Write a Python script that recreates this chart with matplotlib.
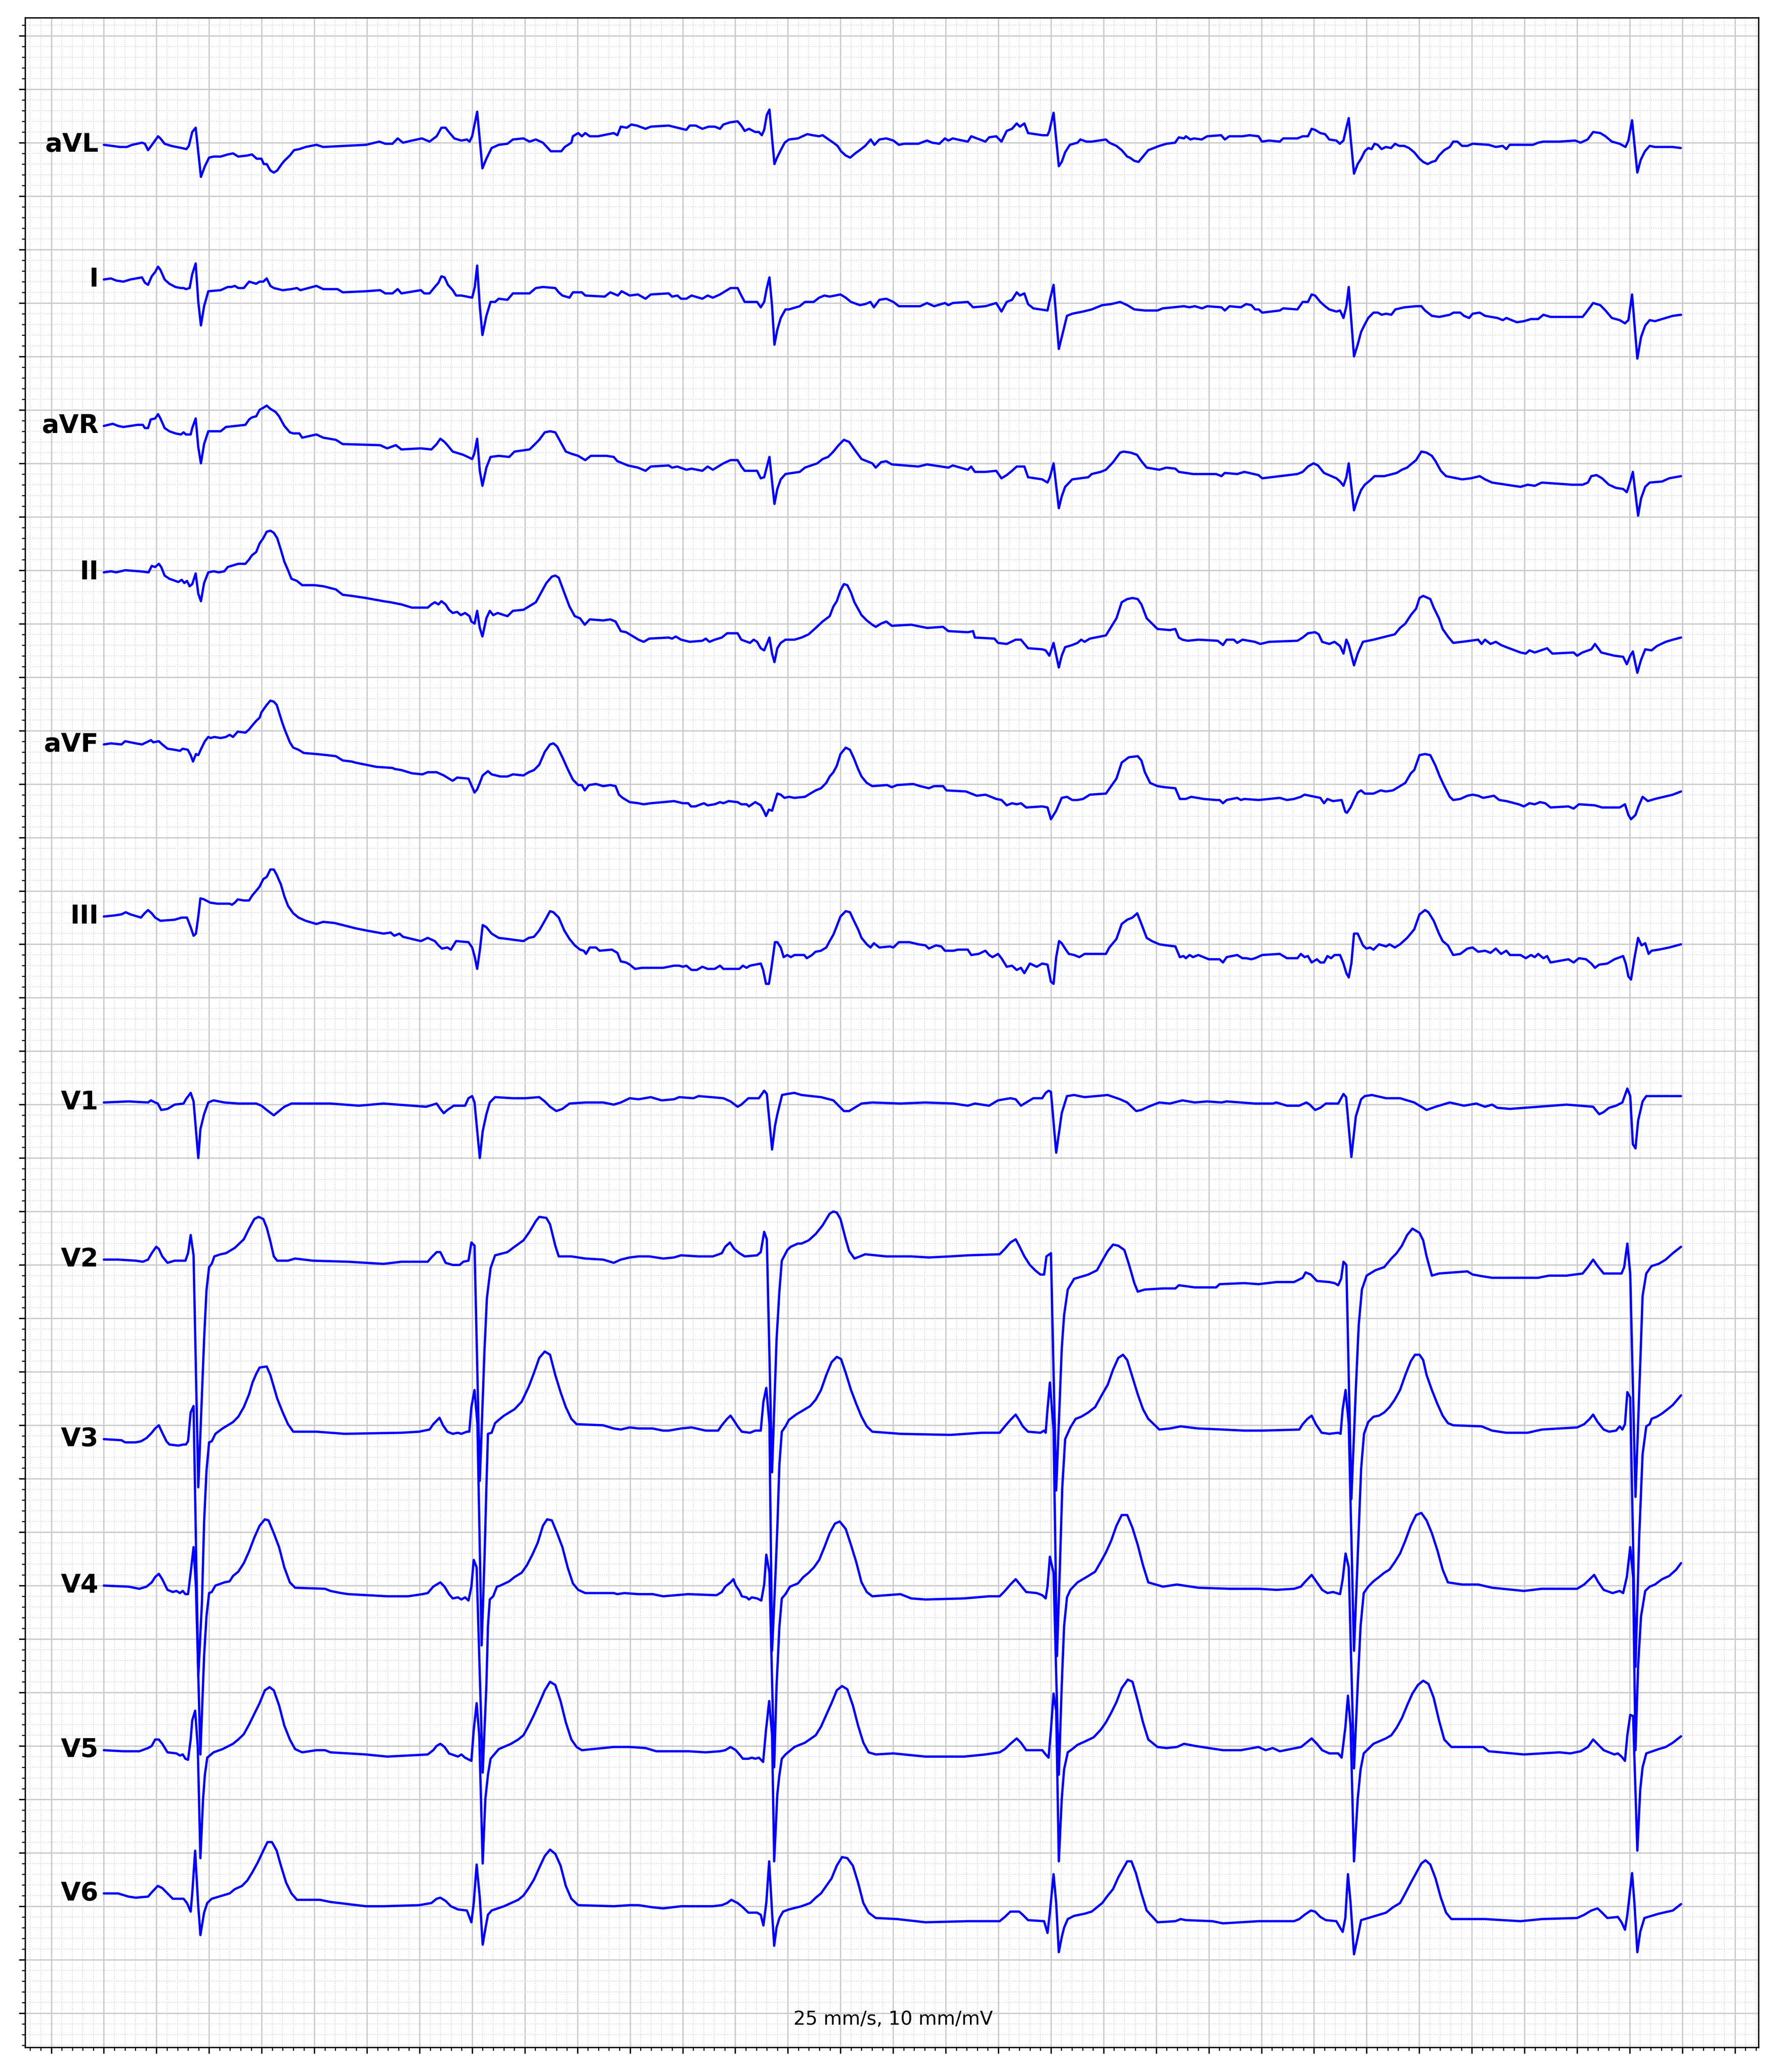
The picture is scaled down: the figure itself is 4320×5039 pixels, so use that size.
import matplotlib
matplotlib.use("Agg")
import matplotlib.pyplot as plt
from matplotlib.ticker import MultipleLocator

# ---------------- data: (time s, amplitude mV) ----------------
LEADS = ["aVL", "I", "aVR", "II", "aVF", "III", "V1", "V2", "V3", "V4", "V5", "V6"]
LEAD_SPACING_MV = 1.5
SPEED_TEXT = "25 mm/s, 10 mm/mV"

AVL = [(0.000,-0.02),(0.061,-0.04),(0.087,-0.04),(0.108,-0.02),(0.145,0.00),(0.156,-0.01),(0.168,-0.07),(0.186,-0.01),(0.206,0.06),(0.215,0.04),(0.231,-0.01),(0.256,-0.03),(0.296,-0.05),(0.314,-0.06),(0.323,-0.03),(0.336,0.10),(0.349,0.14),(0.369,-0.32),(0.384,-0.22),(0.400,-0.14),(0.417,-0.13),(0.444,-0.13),(0.471,-0.11),(0.491,-0.10),(0.511,-0.13),(0.545,-0.12),(0.563,-0.11),(0.581,-0.15),(0.599,-0.15),(0.608,-0.20),(0.619,-0.20),(0.633,-0.26),(0.646,-0.28),(0.659,-0.26),(0.676,-0.20),(0.686,-0.17),(0.707,-0.12),(0.723,-0.07),(0.743,-0.06),(0.767,-0.04),(0.808,-0.02),(0.834,-0.04),(0.915,-0.03),(0.996,-0.02),(1.047,0.01),(1.070,-0.01),(1.097,-0.01),(1.117,0.04),(1.137,0.00),(1.171,0.02),(1.209,0.04),(1.238,0.01),(1.265,0.06),(1.283,0.14),(1.299,0.14),(1.308,0.11),(1.332,0.04),(1.359,0.02),(1.380,0.03),(1.390,0.01),(1.400,0.06),(1.419,0.29),(1.439,-0.24),(1.454,-0.15),(1.474,-0.05),(1.501,-0.02),(1.534,-0.01),(1.555,0.03),(1.595,0.04),(1.618,0.01),(1.642,0.03),(1.669,0.00),(1.699,-0.08),(1.723,-0.08),(1.739,-0.08),(1.752,-0.04),(1.777,0.00),(1.783,0.06),(1.803,0.09),(1.817,0.06),(1.830,0.09),(1.847,0.06),(1.878,0.06),(1.938,0.09),(1.952,0.07),(1.965,0.15),(1.988,0.14),(2.005,0.17),
       (2.026,0.16),(2.059,0.13),(2.079,0.15),(2.147,0.16),(2.180,0.14),(2.214,0.12),(2.227,0.16),(2.250,0.16),(2.275,0.13),(2.299,0.15),(2.322,0.15),(2.342,0.13),(2.355,0.17),(2.380,0.19),(2.409,0.20),(2.423,0.16),(2.436,0.11),(2.452,0.13),(2.476,0.10),(2.490,0.10),(2.501,0.07),(2.510,0.12),(2.520,0.26),(2.530,0.31),(2.549,-0.20),(2.557,-0.15),(2.573,-0.07),(2.588,0.00),(2.604,0.03),(2.638,0.04),(2.674,0.08),(2.694,0.07),(2.719,0.06),(2.732,0.07),(2.755,0.03),(2.773,0.00),(2.789,-0.03),(2.802,-0.08),(2.820,-0.12),(2.837,-0.14),(2.856,-0.10),(2.873,-0.07),(2.894,-0.03),(2.915,0.03),(2.929,-0.02),(2.948,0.03),(2.974,0.04),(3.001,0.02),(3.022,-0.02),(3.042,-0.01),(3.096,-0.01),(3.129,0.02),(3.149,0.00),(3.176,-0.01),(3.197,0.04),(3.210,0.02),(3.227,0.04),(3.244,0.03),(3.284,0.01),(3.297,0.06),(3.351,0.01),(3.365,0.05),(3.392,0.06),(3.412,0.01),(3.432,0.11),(3.452,0.13),(3.470,0.18),(3.482,0.15),(3.499,0.18),(3.513,0.09),(3.540,0.08),(3.567,0.07),(3.587,0.07),(3.594,0.11),(3.610,0.28),(3.630,-0.22),(3.641,-0.18),(3.654,-0.09),(3.672,-0.02),(3.701,0.00),(3.712,0.03),(3.735,0.01),(3.755,0.01),(3.809,0.03),(3.822,0.00),(3.849,-0.03),(3.869,-0.07),(3.890,-0.13),(3.900,-0.14),(3.917,-0.17),(3.933,-0.18),(3.950,-0.13),(3.970,-0.07),
       (4.012,-0.03),(4.039,-0.01),(4.072,0.00),(4.086,0.05),(4.106,0.04),(4.113,0.06),(4.130,0.03),(4.144,0.04),(4.173,0.03),(4.194,0.06),(4.247,0.07),(4.261,0.03),(4.278,0.06),(4.328,0.06),(4.355,0.07),(4.389,0.06),(4.402,0.01),(4.429,0.02),(4.470,0.01),(4.483,0.04),(4.537,0.04),(4.557,0.06),(4.577,0.06),(4.591,0.13),(4.604,0.12),(4.624,0.09),(4.642,0.08),(4.658,0.03),(4.685,0.02),(4.698,-0.01),(4.712,0.02),(4.723,0.14),(4.732,0.23),(4.752,-0.29),(4.766,-0.20),(4.779,-0.15),(4.793,-0.08),(4.806,-0.05),(4.819,-0.06),(4.830,-0.01),(4.842,-0.02),(4.857,-0.06),(4.873,-0.04),(4.893,-0.05),(4.908,-0.01),(4.924,-0.03),(4.943,-0.03),(4.961,-0.05),(4.981,-0.09),(5.001,-0.15),(5.015,-0.18),(5.032,-0.20),(5.048,-0.18),(5.062,-0.17),(5.075,-0.12),(5.095,-0.07),(5.116,-0.04),(5.129,0.01),(5.145,0.01),(5.163,-0.03),(5.183,-0.03),(5.203,-0.01),(5.264,-0.02),(5.291,-0.04),(5.317,-0.03),(5.331,-0.06),(5.344,-0.02),(5.398,-0.02),(5.432,-0.02),(5.452,0.00),(5.472,0.01),(5.533,0.01),(5.593,0.02),(5.613,0.00),(5.640,0.03),(5.661,0.10),(5.688,0.09),(5.708,0.06),(5.732,0.01),(5.762,-0.01),(5.784,-0.04),(5.795,0.02),(5.809,0.21),(5.829,-0.28),(5.842,-0.16),(5.858,-0.08),(5.876,-0.03),(5.896,-0.04),(5.963,-0.04),(5.994,-0.05)]

LEAD_I = [(0.000,0.22),(0.027,0.23),(0.047,0.21),(0.074,0.20),(0.101,0.22),(0.145,0.24),(0.156,0.19),(0.168,0.17),(0.182,0.25),(0.195,0.29),(0.206,0.34),(0.215,0.31),(0.231,0.22),(0.249,0.18),(0.272,0.15),(0.293,0.14),(0.303,0.14),(0.312,0.13),(0.326,0.14),(0.336,0.27),(0.349,0.37),(0.359,0.01),(0.369,-0.21),(0.381,-0.03),(0.397,0.11),(0.444,0.12),(0.471,0.15),(0.485,0.15),(0.498,0.16),(0.511,0.14),(0.532,0.14),(0.552,0.20),(0.579,0.18),(0.592,0.20),(0.606,0.20),(0.619,0.23),(0.633,0.16),(0.646,0.14),(0.680,0.12),(0.713,0.13),(0.734,0.14),(0.747,0.12),(0.808,0.16),(0.834,0.13),(0.888,0.13),(0.908,0.10),(0.996,0.11),(1.050,0.12),(1.070,0.09),(1.097,0.09),(1.117,0.13),(1.131,0.09),(1.205,0.12),(1.218,0.09),(1.238,0.09),(1.258,0.15),(1.272,0.19),(1.283,0.25),(1.295,0.24),(1.308,0.17),(1.326,0.12),(1.339,0.07),(1.359,0.07),(1.400,0.05),(1.410,0.15),(1.419,0.35),(1.429,-0.03),(1.439,-0.30),(1.454,-0.12),(1.470,0.01),(1.487,0.01),(1.501,0.04),(1.534,0.03),(1.555,0.09),(1.618,0.09),(1.642,0.14),(1.669,0.15),(1.716,0.14),(1.729,0.10),(1.743,0.07),(1.770,0.05),(1.783,0.10),(1.817,0.10),(1.830,0.07),(1.904,0.06),(1.925,0.10),(1.954,0.07),(1.968,0.11),(1.999,0.07),
          (2.030,0.08),(2.059,0.04),(2.079,0.08),(2.147,0.09),(2.160,0.06),(2.180,0.07),(2.194,0.04),(2.214,0.04),(2.234,0.07),(2.275,0.04),(2.295,0.07),(2.315,0.05),(2.342,0.08),(2.362,0.11),(2.382,0.14),(2.409,0.14),(2.423,0.07),(2.436,0.01),(2.483,0.01),(2.497,-0.04),(2.510,0.01),(2.520,0.14),(2.530,0.24),(2.540,-0.03),(2.549,-0.39),(2.560,-0.25),(2.573,-0.14),(2.591,-0.06),(2.604,-0.06),(2.645,-0.03),(2.665,0.01),(2.698,0.01),(2.719,0.05),(2.739,0.07),(2.759,0.06),(2.800,0.08),(2.820,0.05),(2.840,0.01),(2.874,-0.02),(2.894,-0.01),(2.914,0.01),(2.927,-0.04),(2.948,0.03),(2.974,0.04),(3.001,0.01),(3.022,-0.03),(3.103,-0.03),(3.129,0.00),(3.156,-0.03),(3.197,0.00),(3.210,-0.02),(3.227,0.00),(3.284,0.01),(3.304,-0.04),(3.351,-0.03),(3.392,0.00),(3.412,-0.08),(3.432,0.01),(3.452,0.03),(3.470,0.10),(3.482,0.07),(3.499,0.09),(3.513,-0.01),(3.533,-0.05),(3.587,-0.07),(3.594,0.01),(3.610,0.17),(3.630,-0.43),(3.641,-0.32),(3.661,-0.12),(3.681,-0.10),(3.722,-0.08),(3.755,-0.06),(3.795,-0.02),(3.829,-0.01),(3.863,0.01),(3.890,-0.02),(3.917,-0.06),(3.957,-0.07),
          (4.005,-0.07),(4.025,-0.05),(4.066,-0.04),(4.106,-0.03),(4.126,-0.04),(4.147,-0.03),(4.174,-0.05),(4.194,-0.03),(4.248,-0.04),(4.261,-0.07),(4.279,-0.03),(4.322,-0.04),(4.342,-0.01),(4.362,-0.02),(4.376,-0.06),(4.390,-0.06),(4.403,-0.09),(4.470,-0.07),(4.483,-0.05),(4.537,-0.06),(4.557,0.01),(4.577,0.01),(4.591,0.08),(4.604,0.07),(4.624,0.01),(4.642,-0.03),(4.658,-0.06),(4.685,-0.08),(4.699,-0.07),(4.712,-0.14),(4.723,-0.03),(4.732,0.15),(4.752,-0.50),(4.766,-0.39),(4.779,-0.27),(4.793,-0.20),(4.806,-0.14),(4.826,-0.09),(4.843,-0.09),(4.857,-0.11),(4.874,-0.10),(4.894,-0.11),(4.909,-0.06),(4.944,-0.04),(4.988,-0.03),(5.008,-0.03),(5.022,-0.07),(5.048,-0.12),(5.076,-0.13),(5.116,-0.11),(5.130,-0.09),(5.156,-0.09),(5.170,-0.12),(5.190,-0.14),(5.203,-0.10),(5.230,-0.09),(5.250,-0.12),(5.297,-0.14),(5.318,-0.16),(5.331,-0.14),(5.371,-0.18),(5.398,-0.17),(5.425,-0.15),(5.452,-0.15),(5.472,-0.11),(5.499,-0.13),(5.621,-0.13),(5.634,-0.09),(5.661,0.00),(5.688,-0.02),(5.708,-0.07),(5.732,-0.14),(5.762,-0.16),(5.782,-0.19),(5.795,-0.16),(5.809,0.08),(5.829,-0.52),(5.843,-0.32),(5.859,-0.21),(5.876,-0.16),(5.896,-0.17),(5.923,-0.15),(5.964,-0.12),(5.995,-0.11)]

AVR = [(0.000,0.35),(0.034,0.37),(0.054,0.35),(0.074,0.34),(0.128,0.36),(0.148,0.36),(0.156,0.33),(0.168,0.33),(0.178,0.41),(0.195,0.42),(0.206,0.46),(0.215,0.42),(0.231,0.33),(0.249,0.30),(0.272,0.28),(0.293,0.27),(0.303,0.29),(0.312,0.27),(0.330,0.27),(0.336,0.33),(0.349,0.42),(0.359,0.15),(0.369,0.00),(0.381,0.18),(0.397,0.30),(0.444,0.30),(0.464,0.34),(0.538,0.36),(0.552,0.41),(0.563,0.43),(0.579,0.44),(0.592,0.50),(0.606,0.52),(0.619,0.54),(0.633,0.51),(0.653,0.48),(0.666,0.44),(0.686,0.35),(0.707,0.29),(0.720,0.28),(0.743,0.28),(0.754,0.24),(0.808,0.27),(0.834,0.24),(0.882,0.22),(0.908,0.18),(1.050,0.17),(1.077,0.14),(1.110,0.17),(1.131,0.13),(1.205,0.14),(1.245,0.13),(1.265,0.18),(1.279,0.23),(1.295,0.20),(1.306,0.17),(1.326,0.11),(1.366,0.08),(1.400,0.04),(1.408,0.09),(1.419,0.23),(1.429,-0.07),(1.439,-0.21),(1.454,-0.04),(1.470,0.06),(1.501,0.07),(1.541,0.06),(1.561,0.11),(1.618,0.13),(1.635,0.17),(1.655,0.22),(1.676,0.29),(1.696,0.30),(1.716,0.29),(1.736,0.20),(1.756,0.11),(1.777,0.09),(1.803,0.07),(1.830,0.03),(1.851,0.07),(1.911,0.07),(1.938,0.06),(1.952,0.02),(1.992,-0.02),
       (2.030,-0.04),(2.059,-0.07),(2.079,-0.03),(2.147,-0.02),(2.160,-0.04),(2.180,-0.03),(2.214,-0.06),(2.234,-0.05),(2.275,-0.07),(2.295,-0.03),(2.315,-0.06),(2.355,0.00),(2.382,0.03),(2.409,0.03),(2.423,-0.03),(2.436,-0.07),(2.483,-0.07),(2.497,-0.14),(2.510,-0.13),(2.530,0.06),(2.549,-0.38),(2.560,-0.24),(2.573,-0.15),(2.591,-0.10),(2.645,-0.08),(2.665,-0.04),(2.712,0.00),(2.732,0.04),(2.753,0.06),(2.773,0.11),(2.793,0.17),(2.813,0.22),(2.833,0.20),(2.853,0.13),(2.880,0.04),(2.921,0.00),(2.934,-0.04),(2.954,0.01),(2.974,0.02),(2.995,-0.01),(3.096,-0.03),(3.129,-0.01),(3.210,-0.04),(3.227,-0.02),(3.284,-0.06),(3.297,-0.03),(3.311,-0.08),(3.351,-0.08),(3.392,-0.07),(3.412,-0.14),(3.432,-0.11),(3.452,-0.07),(3.470,-0.03),(3.499,-0.03),(3.513,-0.13),(3.567,-0.15),(3.587,-0.18),(3.596,-0.13),(3.610,0.00),(3.630,-0.42),(3.641,-0.31),(3.654,-0.22),(3.681,-0.15),(3.742,-0.13),(3.755,-0.10),(3.789,-0.08),(3.809,-0.06),(3.836,0.01),(3.863,0.10),(3.876,0.11),(3.903,0.10),(3.927,0.08),(3.944,0.02),(3.964,-0.04),
       (4.012,-0.06),(4.039,-0.04),(4.073,-0.05),(4.086,-0.08),(4.140,-0.10),(4.228,-0.10),(4.248,-0.12),(4.261,-0.09),(4.308,-0.10),(4.335,-0.08),(4.389,-0.11),(4.403,-0.14),(4.470,-0.12),(4.537,-0.10),(4.557,-0.08),(4.577,-0.03),(4.598,0.00),(4.615,-0.02),(4.638,-0.09),(4.685,-0.14),(4.699,-0.17),(4.712,-0.21),(4.723,-0.13),(4.732,0.00),(4.752,-0.44),(4.766,-0.33),(4.779,-0.25),(4.793,-0.20),(4.813,-0.16),(4.830,-0.12),(4.867,-0.12),(4.914,-0.09),(4.934,-0.06),(4.954,-0.04),(4.968,-0.01),(4.988,0.03),(5.008,0.11),(5.028,0.10),(5.048,0.07),(5.062,0.02),(5.082,-0.07),(5.102,-0.12),(5.163,-0.15),(5.196,-0.14),(5.230,-0.12),(5.250,-0.15),(5.277,-0.18),(5.331,-0.20),(5.385,-0.22),(5.412,-0.20),(5.439,-0.21),(5.466,-0.18),(5.580,-0.20),(5.621,-0.20),(5.641,-0.18),(5.654,-0.12),(5.674,-0.11),(5.695,-0.14),(5.721,-0.20),(5.748,-0.23),(5.775,-0.24),(5.789,-0.27),(5.802,-0.17),(5.812,-0.08),(5.832,-0.49),(5.843,-0.33),(5.859,-0.22),(5.876,-0.18),(5.923,-0.17),(5.950,-0.14),(5.995,-0.12)]

LEAD_II = [(0.000,0.48),(0.027,0.49),(0.047,0.48),(0.081,0.50),(0.135,0.49),(0.170,0.48),(0.182,0.54),(0.195,0.53),(0.209,0.56),(0.218,0.53),(0.231,0.45),(0.249,0.42),(0.272,0.40),(0.283,0.39),(0.296,0.41),(0.306,0.38),(0.316,0.40),(0.326,0.35),(0.336,0.37),(0.349,0.47),(0.359,0.28),(0.369,0.21),(0.381,0.38),(0.397,0.48),(0.417,0.49),(0.437,0.48),(0.458,0.49),(0.471,0.53),(0.511,0.56),(0.538,0.56),(0.552,0.60),(0.563,0.64),(0.579,0.67),(0.592,0.75),(0.606,0.80),(0.619,0.86),(0.633,0.87),(0.646,0.85),(0.659,0.80),(0.673,0.69),(0.686,0.58),(0.700,0.50),(0.713,0.42),(0.734,0.40),(0.754,0.36),(0.801,0.36),(0.834,0.35),(0.882,0.32),(0.908,0.27),(0.942,0.26),(0.996,0.24),(1.063,0.21),(1.090,0.20),(1.131,0.18),(1.171,0.15),(1.231,0.15),(1.245,0.18),(1.258,0.20),(1.272,0.18),(1.283,0.21),(1.299,0.18),(1.312,0.13),(1.326,0.10),(1.343,0.11),(1.357,0.08),(1.373,0.10),(1.390,0.07),(1.397,0.02),(1.409,0.00),(1.419,0.12),(1.429,-0.04),(1.439,-0.12),(1.454,0.05),(1.467,0.12),(1.480,0.08),(1.497,0.10),(1.534,0.07),(1.555,0.12),(1.595,0.13),(1.615,0.16),(1.642,0.20),(1.662,0.29),(1.682,0.38),(1.703,0.44),(1.716,0.45),(1.729,0.43),(1.750,0.29),(1.770,0.16),(1.790,0.07),(1.810,0.05),(1.828,-0.01),(1.847,0.04),(1.898,0.03),(1.925,0.04),(1.945,0.02),(1.965,-0.07),(1.985,-0.08),
           (2.019,-0.13),(2.032,-0.15),(2.052,-0.17),(2.073,-0.14),(2.147,-0.13),(2.160,-0.14),(2.174,-0.12),(2.194,-0.15),(2.227,-0.17),(2.275,-0.16),(2.288,-0.14),(2.302,-0.17),(2.322,-0.15),(2.349,-0.13),(2.369,-0.09),(2.409,-0.09),(2.423,-0.15),(2.456,-0.18),(2.470,-0.15),(2.483,-0.17),(2.497,-0.23),(2.510,-0.25),(2.520,-0.19),(2.530,-0.13),(2.540,-0.28),(2.549,-0.36),(2.560,-0.23),(2.573,-0.18),(2.591,-0.15),(2.625,-0.15),(2.652,-0.13),(2.679,-0.10),(2.706,-0.04),(2.732,0.02),(2.759,0.07),(2.773,0.16),(2.786,0.21),(2.800,0.31),(2.813,0.37),(2.826,0.36),(2.840,0.29),(2.853,0.20),(2.880,0.08),(2.900,0.03),(2.921,-0.01),(2.934,-0.03),(2.954,0.00),(2.974,0.02),(2.995,-0.02),(3.069,-0.01),(3.129,-0.04),(3.190,-0.03),(3.210,-0.07),(3.284,-0.08),(3.304,-0.07),(3.311,-0.13),(3.385,-0.14),(3.399,-0.18),(3.432,-0.19),(3.466,-0.15),(3.486,-0.15),(3.513,-0.23),(3.567,-0.24),(3.580,-0.25),(3.594,-0.30),(3.610,-0.18),(3.630,-0.41),(3.641,-0.30),(3.654,-0.22),(3.681,-0.20),(3.701,-0.18),(3.715,-0.15),(3.728,-0.17),(3.748,-0.14),(3.809,-0.11),(3.829,-0.03),(3.849,0.05),(3.869,0.20),(3.890,0.23),(3.910,0.24),(3.930,0.23),(3.944,0.18),(3.964,0.05),
           (4.005,-0.05),(4.052,-0.06),(4.073,-0.05),(4.086,-0.13),(4.100,-0.15),(4.120,-0.16),(4.160,-0.15),(4.234,-0.16),(4.254,-0.20),(4.268,-0.15),(4.295,-0.15),(4.308,-0.18),(4.328,-0.15),(4.375,-0.17),(4.396,-0.19),(4.429,-0.17),(4.537,-0.16),(4.557,-0.13),(4.577,-0.09),(4.604,-0.08),(4.618,-0.10),(4.631,-0.17),(4.658,-0.19),(4.678,-0.17),(4.699,-0.21),(4.712,-0.28),(4.723,-0.15),(4.732,-0.20),(4.752,-0.39),(4.766,-0.28),(4.786,-0.17),(4.826,-0.15),(4.874,-0.12),(4.907,-0.10),(4.927,-0.04),(4.947,0.00),(4.968,0.08),(4.988,0.14),(5.001,0.24),(5.015,0.26),(5.042,0.23),(5.055,0.15),(5.075,0.05),(5.089,-0.05),(5.109,-0.12),(5.129,-0.18),(5.163,-0.17),(5.224,-0.15),(5.237,-0.19),(5.250,-0.15),(5.271,-0.19),(5.291,-0.17),(5.311,-0.20),(5.331,-0.22),(5.385,-0.27),(5.405,-0.28),(5.419,-0.25),(5.439,-0.27),(5.486,-0.23),(5.506,-0.28),(5.587,-0.27),(5.600,-0.30),(5.620,-0.27),(5.654,-0.24),(5.668,-0.19),(5.692,-0.27),(5.742,-0.30),(5.775,-0.31),(5.789,-0.38),(5.802,-0.30),(5.812,-0.26),(5.829,-0.46),(5.843,-0.34),(5.859,-0.24),(5.883,-0.25),(5.903,-0.21),(5.937,-0.17),(5.964,-0.15),(5.995,-0.13)]

AVF = [(0.000,0.37),(0.027,0.38),(0.067,0.37),(0.081,0.40),(0.121,0.38),(0.145,0.37),(0.162,0.39),(0.179,0.41),(0.188,0.39),(0.209,0.40),(0.222,0.37),(0.242,0.33),(0.269,0.32),(0.289,0.31),(0.300,0.33),(0.319,0.32),(0.330,0.27),(0.339,0.21),(0.350,0.28),(0.359,0.27),(0.370,0.33),(0.384,0.40),(0.397,0.44),(0.406,0.43),(0.420,0.44),(0.444,0.43),(0.464,0.44),(0.478,0.46),(0.491,0.44),(0.509,0.49),(0.538,0.48),(0.552,0.51),(0.565,0.55),(0.579,0.59),(0.592,0.62),(0.599,0.67),(0.619,0.74),(0.633,0.78),(0.646,0.77),(0.657,0.74),(0.666,0.67),(0.680,0.56),(0.689,0.50),(0.707,0.39),(0.720,0.34),(0.740,0.32),(0.760,0.29),(0.808,0.28),(0.848,0.27),(0.882,0.26),(0.908,0.22),(0.942,0.21),(0.956,0.20),(0.996,0.18),(1.036,0.16),(1.097,0.15),(1.106,0.14),(1.131,0.13),(1.171,0.10),(1.211,0.09),(1.231,0.11),(1.265,0.11),(1.292,0.08),(1.312,0.05),(1.326,0.03),(1.343,0.06),(1.386,0.05),(1.397,-0.01),(1.409,-0.08),(1.419,-0.05),(1.429,0.01),(1.440,0.08),(1.460,0.12),(1.474,0.09),(1.507,0.07),(1.534,0.07),(1.555,0.09),(1.595,0.08),(1.615,0.11),(1.635,0.13),(1.655,0.18),(1.676,0.30),(1.696,0.37),(1.709,0.38),(1.723,0.35),(1.743,0.25),(1.763,0.14),(1.783,0.04),(1.803,-0.01),(1.817,-0.01),(1.828,-0.06),(1.844,-0.01),(1.871,0.00),(1.898,-0.02),(1.925,-0.01),(1.945,-0.02),(1.958,-0.10),(1.972,-0.13),(1.999,-0.17),
       (2.032,-0.18),(2.052,-0.19),(2.079,-0.18),(2.126,-0.17),(2.167,-0.16),(2.201,-0.18),(2.221,-0.18),(2.232,-0.21),(2.248,-0.21),(2.281,-0.18),(2.295,-0.20),(2.322,-0.19),(2.342,-0.17),(2.355,-0.18),(2.375,-0.16),(2.409,-0.17),(2.423,-0.19),(2.443,-0.19),(2.452,-0.21),(2.476,-0.17),(2.497,-0.20),(2.510,-0.26),(2.517,-0.30),(2.528,-0.24),(2.540,-0.25),(2.560,-0.09),(2.573,-0.10),(2.587,-0.13),(2.604,-0.12),(2.625,-0.13),(2.665,-0.12),(2.685,-0.09),(2.706,-0.06),(2.726,-0.04),(2.746,0.01),(2.759,0.07),(2.773,0.11),(2.786,0.17),(2.800,0.28),(2.820,0.34),(2.836,0.32),(2.851,0.24),(2.867,0.14),(2.880,0.07),(2.900,0.01),(2.921,-0.02),(2.977,-0.01),(2.995,-0.03),(3.015,-0.01),(3.076,0.00),(3.103,-0.02),(3.136,-0.04),(3.156,-0.02),(3.190,-0.02),(3.203,-0.06),(3.277,-0.07),(3.297,-0.09),(3.318,-0.11),(3.351,-0.10),(3.372,-0.12),(3.392,-0.14),(3.412,-0.15),(3.432,-0.20),(3.452,-0.18),(3.470,-0.19),(3.486,-0.18),(3.506,-0.22),(3.567,-0.21),(3.587,-0.22),(3.600,-0.33),(3.620,-0.25),(3.641,-0.13),(3.661,-0.12),(3.681,-0.15),(3.701,-0.15),(3.722,-0.14),(3.748,-0.10),(3.809,-0.09),(3.829,-0.02),(3.849,0.05),(3.869,0.20),(3.896,0.25),(3.930,0.26),(3.944,0.22),(3.957,0.11),(3.977,0.01),
       (4.005,-0.02),(4.032,-0.03),(4.073,-0.04),(4.090,-0.14),(4.113,-0.14),(4.133,-0.12),(4.180,-0.14),(4.228,-0.15),(4.241,-0.15),(4.254,-0.18),(4.268,-0.15),(4.308,-0.13),(4.322,-0.15),(4.335,-0.14),(4.389,-0.15),(4.470,-0.13),(4.497,-0.15),(4.524,-0.14),(4.550,-0.12),(4.564,-0.10),(4.604,-0.12),(4.624,-0.13),(4.638,-0.18),(4.651,-0.14),(4.672,-0.16),(4.705,-0.15),(4.719,-0.26),(4.725,-0.27),(4.739,-0.22),(4.752,-0.15),(4.766,-0.08),(4.779,-0.06),(4.793,-0.09),(4.826,-0.09),(4.853,-0.06),(4.874,-0.07),(4.900,-0.06),(4.927,-0.02),(4.947,0.01),(4.968,0.10),(4.981,0.13),(5.001,0.27),(5.022,0.28),(5.042,0.27),(5.062,0.17),(5.078,0.07),(5.095,-0.02),(5.116,-0.12),(5.129,-0.15),(5.156,-0.14),(5.183,-0.11),(5.203,-0.10),(5.224,-0.11),(5.243,-0.13),(5.264,-0.12),(5.284,-0.11),(5.304,-0.15),(5.331,-0.16),(5.378,-0.19),(5.398,-0.21),(5.419,-0.18),(5.439,-0.19),(5.459,-0.17),(5.479,-0.18),(5.499,-0.22),(5.567,-0.21),(5.587,-0.23),(5.607,-0.19),(5.668,-0.20),(5.695,-0.22),(5.762,-0.22),(5.782,-0.19),(5.795,-0.29),(5.805,-0.33),(5.822,-0.29),(5.832,-0.22),(5.849,-0.12),(5.869,-0.16),(5.896,-0.14),(5.930,-0.12),(5.964,-0.10),(5.995,-0.07)]

LEAD_III = [(0.000,0.26),(0.040,0.27),(0.067,0.28),(0.083,0.30),(0.101,0.28),(0.141,0.25),(0.155,0.29),(0.168,0.32),(0.182,0.29),(0.195,0.25),(0.215,0.22),(0.269,0.23),(0.296,0.25),(0.316,0.25),(0.330,0.16),(0.341,0.08),(0.350,0.10),(0.359,0.26),(0.367,0.43),(0.381,0.42),(0.404,0.39),(0.431,0.38),(0.478,0.38),(0.487,0.37),(0.498,0.39),(0.509,0.42),(0.532,0.41),(0.552,0.41),(0.565,0.46),(0.579,0.50),(0.592,0.54),(0.606,0.61),(0.619,0.63),(0.633,0.70),(0.646,0.70),(0.657,0.65),(0.673,0.56),(0.686,0.45),(0.700,0.36),(0.720,0.29),(0.740,0.25),(0.767,0.22),(0.808,0.19),(0.834,0.21),(0.875,0.20),(0.908,0.18),(0.956,0.15),(0.996,0.13),(1.063,0.10),(1.090,0.11),(1.104,0.08),(1.124,0.10),(1.137,0.07),(1.171,0.05),(1.205,0.03),(1.231,0.06),(1.258,0.03),(1.272,-0.01),(1.285,-0.04),(1.306,-0.03),(1.319,-0.05),(1.339,0.03),(1.386,0.02),(1.400,-0.03),(1.410,-0.12),(1.419,-0.23),(1.429,-0.06),(1.440,0.18),(1.454,0.16),(1.474,0.10),(1.501,0.06),(1.534,0.05),(1.595,0.03),(1.615,0.06),(1.635,0.07),(1.655,0.13),(1.676,0.22),(1.696,0.31),(1.709,0.30),(1.729,0.25),(1.750,0.13),(1.770,0.05),(1.790,-0.01),(1.810,-0.05),(1.824,-0.06),(1.833,-0.09),(1.847,-0.03),(1.871,-0.03),(1.884,-0.06),(1.931,-0.05),(1.952,-0.08),(1.965,-0.16),(1.985,-0.17),(1.999,-0.19),
            (2.019,-0.23),(2.046,-0.22),(2.126,-0.22),(2.167,-0.20),(2.187,-0.20),(2.201,-0.21),(2.214,-0.20),(2.234,-0.24),(2.254,-0.24),(2.275,-0.21),(2.295,-0.23),(2.322,-0.23),(2.342,-0.20),(2.355,-0.23),(2.416,-0.23),(2.429,-0.20),(2.443,-0.22),(2.456,-0.20),(2.497,-0.18),(2.506,-0.24),(2.517,-0.37),(2.528,-0.37),(2.537,-0.23),(2.551,0.02),(2.560,0.02),(2.573,-0.03),(2.584,-0.12),(2.598,-0.10),(2.611,-0.12),(2.625,-0.10),(2.662,-0.10),(2.672,-0.13),(2.692,-0.10),(2.705,-0.07),(2.726,-0.06),(2.746,-0.03),(2.759,0.03),(2.773,0.09),(2.786,0.17),(2.800,0.26),(2.820,0.31),(2.836,0.30),(2.851,0.22),(2.867,0.14),(2.880,0.06),(2.900,0.00),(2.914,-0.03),(2.927,0.01),(2.948,-0.03),(2.988,-0.02),(3.001,-0.03),(3.022,0.02),(3.062,0.02),(3.096,0.00),(3.123,-0.01),(3.136,-0.04),(3.163,-0.01),(3.183,-0.02),(3.197,-0.06),(3.230,-0.06),(3.247,-0.05),(3.284,-0.05),(3.297,-0.10),(3.325,-0.09),(3.351,-0.06),(3.365,-0.10),(3.378,-0.12),(3.399,-0.09),(3.412,-0.13),(3.432,-0.21),(3.452,-0.20),(3.470,-0.24),(3.486,-0.22),(3.499,-0.27),(3.520,-0.18),(3.546,-0.21),(3.567,-0.18),(3.587,-0.19),(3.600,-0.35),(3.610,-0.37),(3.620,-0.12),(3.631,0.03),(3.641,0.01),(3.654,-0.04),(3.668,-0.09),(3.688,-0.10),(3.708,-0.12),(3.728,-0.09),(3.809,-0.09),(3.822,-0.03),(3.849,0.05),(3.869,0.19),(3.890,0.23),(3.910,0.25),(3.928,0.29),(3.944,0.19),(3.964,0.06),(3.984,0.03),
            (4.012,0.00),(4.039,-0.01),(4.073,-0.02),(4.090,-0.12),(4.104,-0.11),(4.113,-0.13),(4.127,-0.10),(4.140,-0.12),(4.160,-0.10),(4.200,-0.14),(4.241,-0.14),(4.254,-0.17),(4.268,-0.12),(4.308,-0.10),(4.328,-0.13),(4.342,-0.13),(4.362,-0.14),(4.376,-0.13),(4.403,-0.10),(4.470,-0.09),(4.497,-0.13),(4.537,-0.13),(4.550,-0.09),(4.564,-0.12),(4.577,-0.11),(4.591,-0.17),(4.611,-0.14),(4.624,-0.17),(4.638,-0.17),(4.651,-0.11),(4.665,-0.13),(4.678,-0.10),(4.699,-0.10),(4.712,-0.18),(4.723,-0.27),(4.732,-0.31),(4.742,-0.18),(4.752,0.10),(4.766,0.10),(4.786,-0.01),(4.799,-0.04),(4.813,-0.03),(4.826,-0.05),(4.847,0.00),(4.874,-0.02),(4.887,0.00),(4.907,-0.03),(4.927,0.00),(4.954,0.06),(4.981,0.14),(5.001,0.28),(5.022,0.32),(5.035,0.30),(5.055,0.22),(5.075,0.10),(5.089,0.03),(5.109,-0.01),(5.129,-0.10),(5.156,-0.09),(5.183,-0.04),(5.203,-0.03),(5.224,-0.07),(5.250,-0.06),(5.271,-0.08),(5.291,-0.04),(5.311,-0.09),(5.331,-0.06),(5.345,-0.10),(5.385,-0.10),(5.405,-0.13),(5.425,-0.10),(5.439,-0.12),(5.452,-0.09),(5.472,-0.13),(5.486,-0.11),(5.499,-0.17),(5.567,-0.14),(5.587,-0.17),(5.607,-0.13),(5.634,-0.14),(5.654,-0.18),(5.668,-0.22),(5.684,-0.19),(5.715,-0.18),(5.742,-0.14),(5.775,-0.11),(5.785,-0.18),(5.795,-0.30),(5.805,-0.33),(5.818,-0.13),(5.832,0.06),(5.845,-0.01),(5.859,0.01),(5.872,-0.09),(5.883,-0.06),(5.910,-0.05),(5.950,-0.03),(5.995,0.00)]

V1 = [(0.000,0.02),(0.094,0.03),(0.168,0.02),(0.179,0.04),(0.195,0.02),(0.205,0.01),(0.218,-0.05),(0.242,-0.04),(0.269,0.00),(0.303,0.01),(0.312,0.05),(0.330,0.11),(0.341,0.03),(0.359,-0.50),(0.367,-0.23),(0.381,-0.09),(0.397,0.02),(0.417,0.04),(0.458,0.02),(0.511,0.01),(0.579,0.01),(0.599,-0.01),(0.619,-0.05),(0.646,-0.10),(0.666,-0.06),(0.686,-0.02),(0.713,0.01),(0.861,0.01),(0.915,0.00),(0.969,-0.01),(1.063,0.01),(1.225,-0.02),(1.265,0.01),(1.279,-0.04),(1.292,-0.08),(1.306,-0.05),(1.330,-0.01),(1.373,-0.01),(1.386,0.06),(1.400,0.08),(1.409,0.02),(1.429,-0.50),(1.440,-0.25),(1.454,-0.09),(1.467,0.02),(1.487,0.07),(1.555,0.06),(1.602,0.06),(1.655,0.07),(1.676,0.03),(1.696,-0.02),(1.720,-0.06),(1.743,-0.04),(1.770,0.01),(1.830,0.02),(1.898,0.02),(1.938,0.00),(1.965,0.02),(1.999,0.06),
      (2.032,0.05),(2.079,0.07),(2.120,0.04),(2.167,0.05),(2.187,0.07),(2.241,0.06),(2.261,0.08),(2.355,0.06),(2.382,0.03),(2.409,-0.02),(2.423,0.00),(2.450,0.06),(2.490,0.06),(2.510,0.13),(2.520,0.10),(2.540,-0.42),(2.551,-0.20),(2.560,-0.09),(2.578,0.09),(2.598,0.10),(2.625,0.11),(2.652,0.09),(2.726,0.07),(2.773,0.04),(2.793,-0.01),(2.813,-0.06),(2.833,-0.06),(2.853,-0.03),(2.880,0.01),(2.921,0.02),(3.028,0.01),(3.123,0.02),(3.230,0.01),(3.284,-0.01),(3.311,0.01),(3.365,-0.01),(3.399,0.04),(3.446,0.06),(3.466,0.05),(3.486,-0.01),(3.513,0.03),(3.533,0.06),(3.567,0.06),(3.580,0.11),(3.591,0.13),(3.600,0.12),(3.620,-0.45),(3.641,-0.08),(3.661,0.08),(3.688,0.09),(3.728,0.07),(3.816,0.09),(3.863,0.05),(3.890,0.02),(3.924,-0.06),(3.944,-0.05),(3.970,-0.02),
      (4.012,0.02),(4.052,0.01),(4.100,0.04),(4.147,0.02),(4.194,0.03),(4.248,0.02),(4.268,0.03),(4.376,0.01),(4.443,0.01),(4.457,0.02),(4.497,-0.01),(4.544,-0.01),(4.571,0.02),(4.584,0.00),(4.604,-0.05),(4.624,-0.03),(4.645,0.01),(4.692,0.01),(4.712,0.10),(4.722,0.07),(4.742,-0.49),(4.759,-0.11),(4.779,0.05),(4.793,0.08),(4.820,0.09),(4.874,0.06),(4.927,0.06),(4.981,0.02),(5.008,-0.02),(5.028,-0.05),(5.062,-0.02),(5.116,0.02),(5.170,-0.01),(5.217,0.01),(5.250,-0.02),(5.277,0.00),(5.297,-0.03),(5.345,-0.04),(5.452,-0.02),(5.560,0.00),(5.661,-0.02),(5.684,-0.09),(5.701,-0.07),(5.721,-0.03),(5.748,-0.01),(5.772,0.02),(5.791,0.15),(5.802,0.08),(5.812,-0.37),(5.822,-0.41),(5.832,-0.15),(5.849,0.03),(5.863,0.08),(5.923,0.08),(5.995,0.08)]

V2 = [(0.000,0.05),(0.054,0.05),(0.121,0.04),(0.148,0.03),(0.168,0.05),(0.182,0.11),(0.199,0.17),(0.209,0.15),(0.222,0.08),(0.242,0.02),(0.269,0.04),(0.310,0.04),(0.320,0.11),(0.330,0.28),(0.341,0.09),(0.359,-2.08),(0.381,-0.70),(0.390,-0.24),(0.400,-0.02),(0.410,0.01),(0.420,0.08),(0.444,0.10),(0.464,0.11),(0.498,0.16),(0.532,0.24),(0.552,0.34),(0.572,0.43),(0.588,0.45),(0.606,0.43),(0.619,0.35),(0.633,0.22),(0.646,0.08),(0.659,0.04),(0.700,0.04),(0.727,0.06),(0.794,0.04),(0.929,0.03),(0.996,0.02),(1.063,0.01),(1.131,0.03),(1.231,0.03),(1.245,0.07),(1.265,0.12),(1.279,0.12),(1.299,0.02),(1.326,0.00),(1.353,0.00),(1.366,0.03),(1.386,0.04),(1.397,0.21),(1.409,0.18),(1.429,-2.02),(1.447,-0.79),(1.456,-0.31),(1.470,-0.03),(1.487,0.09),(1.534,0.12),(1.561,0.17),(1.595,0.23),(1.618,0.31),(1.642,0.41),(1.655,0.45),(1.682,0.44),(1.696,0.38),(1.716,0.18),(1.729,0.08),(1.777,0.08),(1.830,0.06),(1.898,0.05),(1.938,0.02),(1.965,0.05),(1.999,0.07),
      (2.032,0.08),(2.073,0.08),(2.126,0.06),(2.167,0.07),(2.194,0.09),(2.261,0.08),(2.315,0.08),(2.349,0.11),(2.362,0.17),(2.380,0.21),(2.396,0.15),(2.416,0.11),(2.436,0.08),(2.483,0.09),(2.497,0.12),(2.510,0.31),(2.520,0.24),(2.540,-1.94),(2.557,-0.70),(2.568,-0.24),(2.577,0.04),(2.598,0.14),(2.611,0.17),(2.638,0.20),(2.652,0.20),(2.679,0.23),(2.706,0.29),(2.732,0.37),(2.759,0.48),(2.773,0.50),(2.786,0.49),(2.800,0.43),(2.820,0.24),(2.833,0.13),(2.853,0.06),(2.874,0.08),(2.894,0.10),(2.974,0.08),(3.069,0.08),(3.136,0.07),(3.217,0.08),(3.284,0.09),(3.405,0.10),(3.425,0.15),(3.446,0.21),(3.466,0.24),(3.479,0.18),(3.499,0.08),(3.520,0.00),(3.540,-0.05),(3.560,-0.09),(3.574,-0.09),(3.583,0.08),(3.600,0.11),(3.620,-2.11),(3.641,-0.79),(3.650,-0.47),(3.664,-0.23),(3.688,-0.13),(3.715,-0.11),(3.742,-0.09),(3.775,-0.05),(3.795,0.04),(3.816,0.13),(3.836,0.19),(3.856,0.18),(3.879,0.14),(3.896,0.01),(3.917,-0.17),(3.930,-0.25),(3.957,-0.23),
      (4.026,-0.22),(4.073,-0.22),(4.086,-0.19),(4.147,-0.21),(4.228,-0.21),(4.241,-0.18),(4.335,-0.17),(4.389,-0.18),(4.457,-0.16),(4.524,-0.16),(4.557,-0.12),(4.568,-0.07),(4.588,-0.09),(4.611,-0.15),(4.658,-0.16),(4.678,-0.17),(4.692,-0.19),(4.703,-0.13),(4.712,0.03),(4.723,0.00),(4.742,-2.19),(4.759,-1.16),(4.770,-0.56),(4.782,-0.23),(4.800,-0.10),(4.833,-0.05),(4.867,-0.02),(4.894,0.06),(4.914,0.11),(4.934,0.18),(4.954,0.28),(4.974,0.34),(5.001,0.30),(5.015,0.23),(5.028,0.08),(5.048,-0.10),(5.075,-0.08),(5.183,-0.06),(5.203,-0.09),(5.250,-0.11),(5.277,-0.12),(5.452,-0.12),(5.493,-0.10),(5.560,-0.10),(5.621,-0.08),(5.641,-0.02),(5.661,0.05),(5.678,-0.01),(5.701,-0.08),(5.769,-0.08),(5.779,-0.02),(5.791,0.20),(5.802,-0.08),(5.822,-2.17),(5.840,-0.93),(5.849,-0.29),(5.863,-0.08),(5.883,-0.01),(5.910,0.01),(5.937,0.05),(5.964,0.11),(5.995,0.17)]

V3 = [(0.000,-0.13),(0.067,-0.14),(0.081,-0.16),(0.121,-0.16),(0.141,-0.15),(0.162,-0.12),(0.182,-0.07),(0.195,-0.03),(0.209,0.00),(0.222,-0.07),(0.238,-0.15),(0.249,-0.18),(0.283,-0.19),(0.303,-0.18),(0.312,-0.18),(0.320,-0.15),(0.330,0.12),(0.341,0.18),(0.359,-2.35),(0.373,-1.65),(0.381,-0.91),(0.390,-0.43),(0.400,-0.16),(0.410,-0.15),(0.424,-0.08),(0.451,-0.03),(0.478,0.01),(0.491,0.03),(0.511,0.08),(0.532,0.17),(0.552,0.29),(0.565,0.40),(0.579,0.48),(0.592,0.54),(0.619,0.55),(0.633,0.47),(0.646,0.36),(0.659,0.25),(0.680,0.12),(0.700,0.01),(0.720,-0.06),(0.808,-0.06),(0.915,-0.08),(1.131,-0.07),(1.198,-0.06),(1.238,-0.04),(1.252,0.01),(1.276,0.07),(1.289,0.00),(1.306,-0.06),(1.326,-0.08),(1.346,-0.07),(1.359,-0.08),(1.380,-0.06),(1.389,-0.06),(1.397,0.17),(1.409,0.33),(1.420,0.01),(1.436,-2.06),(1.447,-1.24),(1.454,-0.59),(1.460,-0.08),(1.474,-0.07),(1.487,0.02),(1.501,0.05),(1.521,0.09),(1.541,0.12),(1.561,0.15),(1.588,0.22),(1.615,0.36),(1.635,0.49),(1.655,0.63),(1.676,0.69),(1.696,0.66),(1.716,0.47),(1.736,0.31),(1.756,0.17),(1.777,0.06),(1.797,0.01),(1.898,0.00),(1.938,-0.03),(1.965,-0.04),(1.999,-0.02),
      (2.032,-0.03),(2.086,-0.03),(2.126,-0.05),(2.147,-0.05),(2.194,-0.03),(2.234,-0.02),(2.288,-0.05),(2.335,-0.05),(2.349,0.00),(2.369,0.06),(2.382,0.09),(2.396,0.04),(2.409,-0.01),(2.425,-0.06),(2.456,-0.07),(2.476,-0.05),(2.497,-0.05),(2.507,0.22),(2.518,0.35),(2.530,0.01),(2.540,-2.11),(2.551,-1.51),(2.560,-0.96),(2.568,-0.36),(2.577,-0.06),(2.591,-0.01),(2.604,0.05),(2.631,0.10),(2.665,0.15),(2.685,0.18),(2.706,0.24),(2.726,0.33),(2.746,0.47),(2.766,0.59),(2.786,0.64),(2.802,0.62),(2.820,0.49),(2.840,0.33),(2.860,0.20),(2.880,0.08),(2.900,-0.01),(2.921,-0.06),(3.028,-0.08),(3.217,-0.09),(3.338,-0.07),(3.405,-0.07),(3.425,-0.01),(3.446,0.05),(3.466,0.10),(3.479,0.05),(3.493,-0.01),(3.513,-0.06),(3.560,-0.07),(3.574,-0.05),(3.580,-0.07),(3.587,0.15),(3.596,0.40),(3.610,-0.04),(3.623,-2.16),(3.634,-1.33),(3.643,-0.59),(3.654,-0.13),(3.674,-0.02),(3.694,0.06),(3.715,0.08),(3.742,0.12),(3.768,0.17),(3.795,0.29),(3.816,0.38),(3.836,0.52),(3.856,0.63),(3.874,0.66),(3.890,0.61),(3.910,0.45),(3.930,0.29),(3.950,0.15),(3.970,0.06),
      (4.012,-0.04),(4.052,-0.03),(4.093,-0.01),(4.160,-0.03),(4.254,-0.04),(4.335,-0.05),(4.403,-0.05),(4.544,-0.04),(4.557,0.01),(4.575,0.06),(4.591,0.09),(4.607,0.01),(4.629,-0.07),(4.658,-0.08),(4.692,-0.07),(4.701,-0.08),(4.709,0.15),(4.720,0.33),(4.732,0.01),(4.752,-2.11),(4.766,-1.24),(4.779,-0.41),(4.790,-0.08),(4.806,0.03),(4.826,0.08),(4.847,0.09),(4.867,0.12),(4.887,0.17),(4.907,0.24),(4.927,0.33),(4.947,0.47),(4.968,0.60),(4.984,0.66),(5.001,0.66),(5.015,0.61),(5.028,0.47),(5.048,0.33),(5.069,0.20),(5.089,0.09),(5.109,0.02),(5.129,0.00),(5.237,-0.01),(5.277,-0.05),(5.331,-0.07),(5.412,-0.07),(5.466,-0.04),(5.600,-0.02),(5.627,0.01),(5.648,0.06),(5.661,0.10),(5.678,0.03),(5.701,-0.04),(5.722,-0.06),(5.748,-0.05),(5.762,-0.01),(5.772,-0.04),(5.782,0.01),(5.791,0.31),(5.802,0.26),(5.822,-2.26),(5.836,-1.05),(5.849,-0.27),(5.863,-0.01),(5.876,0.01),(5.883,0.06),(5.903,0.08),(5.923,0.11),(5.944,0.15),(5.964,0.19),(5.995,0.28)]

V4 = [(0.000,0.00),(0.094,-0.01),(0.135,-0.03),(0.162,-0.01),(0.182,0.03),(0.195,0.08),(0.209,0.11),(0.222,0.06),(0.242,-0.04),(0.262,-0.06),(0.276,-0.05),(0.289,-0.07),(0.300,-0.05),(0.310,-0.08),(0.320,-0.08),(0.330,0.12),(0.341,0.36),(0.350,-0.01),(0.367,-1.58),(0.381,-0.66),(0.390,-0.29),(0.400,-0.07),(0.410,-0.06),(0.424,0.00),(0.458,0.03),(0.478,0.04),(0.491,0.09),(0.511,0.13),(0.532,0.21),(0.552,0.32),(0.572,0.45),(0.592,0.56),(0.612,0.62),(0.626,0.61),(0.646,0.49),(0.666,0.36),(0.686,0.17),(0.707,0.03),(0.727,-0.02),(0.841,-0.03),(0.861,-0.05),(0.902,-0.07),(0.929,-0.08),(1.077,-0.10),(1.157,-0.10),(1.211,-0.08),(1.231,-0.07),(1.252,-0.01),(1.265,0.01),(1.279,0.03),(1.295,-0.01),(1.312,-0.08),(1.326,-0.12),(1.346,-0.11),(1.359,-0.13),(1.373,-0.11),(1.386,-0.14),(1.397,-0.01),(1.406,0.24),(1.417,0.17),(1.440,-1.75),(1.454,-0.94),(1.460,-0.38),(1.467,-0.13),(1.480,-0.10),(1.494,-0.01),(1.507,0.00),(1.541,0.04),(1.561,0.08),(1.588,0.12),(1.608,0.19),(1.629,0.29),(1.649,0.40),(1.669,0.56),(1.685,0.62),(1.703,0.61),(1.723,0.49),(1.743,0.36),(1.763,0.17),(1.783,0.02),(1.803,-0.04),(1.830,-0.07),(1.938,-0.07),(1.952,-0.08),(1.978,-0.07),
      (2.032,-0.08),(2.086,-0.08),(2.126,-0.10),(2.221,-0.08),(2.329,-0.09),(2.349,-0.06),(2.362,-0.01),(2.382,0.03),(2.393,0.06),(2.402,0.00),(2.416,-0.05),(2.425,-0.10),(2.443,-0.11),(2.452,-0.13),(2.463,-0.11),(2.483,-0.12),(2.499,-0.14),(2.510,0.01),(2.518,0.29),(2.530,0.12),(2.548,-1.70),(2.557,-0.94),(2.568,-0.38),(2.577,-0.12),(2.591,-0.08),(2.608,-0.01),(2.638,0.02),(2.659,0.08),(2.679,0.12),(2.699,0.17),(2.719,0.24),(2.739,0.36),(2.759,0.49),(2.779,0.58),(2.797,0.60),(2.820,0.53),(2.840,0.38),(2.860,0.22),(2.880,0.03),(2.900,-0.06),(2.921,-0.10),(3.028,-0.08),(3.069,-0.12),(3.123,-0.13),(3.270,-0.12),(3.365,-0.10),(3.405,-0.10),(3.425,-0.05),(3.446,0.01),(3.466,0.06),(3.486,0.00),(3.506,-0.06),(3.546,-0.07),(3.567,-0.09),(3.580,-0.12),(3.587,-0.01),(3.596,0.27),(3.610,0.12),(3.630,-1.77),(3.641,-0.94),(3.650,-0.38),(3.661,-0.11),(3.674,-0.04),(3.701,0.03),(3.742,0.09),(3.768,0.13),(3.789,0.22),(3.809,0.31),(3.829,0.42),(3.849,0.56),(3.869,0.66),(3.890,0.66),(3.910,0.54),(3.930,0.38),(3.950,0.19),(3.970,0.03),
      (4.026,-0.01),(4.079,0.01),(4.160,-0.02),(4.281,-0.03),(4.389,-0.03),(4.457,-0.04),(4.524,-0.03),(4.550,-0.01),(4.564,0.03),(4.591,0.10),(4.611,0.03),(4.631,-0.04),(4.651,-0.07),(4.672,-0.06),(4.699,-0.08),(4.709,0.06),(4.720,0.30),(4.732,0.17),(4.752,-1.71),(4.766,-0.94),(4.777,-0.38),(4.789,-0.07),(4.806,-0.01),(4.826,0.04),(4.847,0.08),(4.867,0.12),(4.887,0.15),(4.907,0.22),(4.927,0.30),(4.947,0.42),(4.968,0.56),(4.988,0.66),(5.008,0.68),(5.028,0.61),(5.048,0.49),(5.069,0.33),(5.089,0.15),(5.109,0.03),(5.163,0.01),(5.224,0.01),(5.277,-0.02),(5.398,-0.05),(5.466,-0.03),(5.600,-0.03),(5.627,0.01),(5.648,0.06),(5.665,0.10),(5.681,0.03),(5.701,-0.04),(5.735,-0.07),(5.748,-0.06),(5.762,-0.05),(5.775,-0.07),(5.789,0.08),(5.802,0.36),(5.813,0.08),(5.822,-1.54),(5.832,-0.75),(5.843,-0.29),(5.859,-0.05),(5.876,-0.01),(5.896,0.01),(5.923,0.06),(5.950,0.09),(5.977,0.15),(5.995,0.21)]

V5 = [(0.000,-0.04),(0.074,-0.05),(0.135,-0.05),(0.168,-0.02),(0.182,0.00),(0.195,0.06),(0.209,0.06),(0.222,0.02),(0.242,-0.06),(0.276,-0.07),(0.289,-0.09),(0.300,-0.08),(0.310,-0.12),(0.320,-0.13),(0.330,0.06),(0.336,0.24),(0.347,0.33),(0.357,-0.01),(0.367,-1.05),(0.377,-0.50),(0.384,-0.27),(0.393,-0.11),(0.417,-0.06),(0.451,-0.03),(0.491,0.02),(0.511,0.06),(0.532,0.11),(0.552,0.20),(0.572,0.30),(0.592,0.40),(0.612,0.52),(0.630,0.55),(0.646,0.52),(0.666,0.38),(0.686,0.19),(0.707,0.06),(0.727,-0.03),(0.754,-0.06),(0.808,-0.04),(0.841,-0.04),(0.861,-0.06),(0.996,-0.08),(1.077,-0.10),(1.231,-0.08),(1.252,-0.04),(1.265,0.00),(1.279,0.02),(1.295,-0.01),(1.312,-0.07),(1.346,-0.10),(1.359,-0.08),(1.373,-0.11),(1.397,-0.14),(1.406,0.15),(1.417,0.40),(1.427,0.10),(1.440,-1.10),(1.450,-0.50),(1.460,-0.27),(1.470,-0.12),(1.501,-0.03),(1.548,0.02),(1.575,0.06),(1.595,0.10),(1.615,0.19),(1.635,0.29),(1.655,0.40),(1.676,0.52),(1.696,0.60),(1.716,0.57),(1.736,0.42),(1.756,0.22),(1.777,0.06),(1.797,-0.01),(1.817,-0.04),(1.938,-0.01),(1.999,-0.01),
      (2.059,-0.02),(2.100,-0.05),(2.221,-0.05),(2.288,-0.06),(2.342,-0.05),(2.362,-0.04),(2.382,-0.01),(2.402,-0.04),(2.416,-0.08),(2.429,-0.12),(2.450,-0.12),(2.463,-0.11),(2.476,-0.12),(2.490,-0.11),(2.506,-0.15),(2.517,0.15),(2.529,0.42),(2.540,0.10),(2.548,-1.08),(2.560,-0.45),(2.568,-0.27),(2.577,-0.12),(2.591,-0.08),(2.625,-0.01),(2.665,0.03),(2.706,0.10),(2.726,0.18),(2.746,0.29),(2.766,0.40),(2.786,0.52),(2.806,0.56),(2.826,0.53),(2.847,0.38),(2.867,0.19),(2.887,0.03),(2.907,-0.06),(2.934,-0.08),(3.001,-0.07),(3.123,-0.10),(3.270,-0.10),(3.351,-0.08),(3.405,-0.06),(3.425,-0.03),(3.446,0.02),(3.470,0.07),(3.486,0.03),(3.506,-0.04),(3.567,-0.04),(3.580,-0.08),(3.591,-0.11),(3.600,0.15),(3.610,0.49),(3.620,0.33),(3.630,-1.08),(3.641,-0.50),(3.650,-0.22),(3.664,-0.06),(3.681,-0.03),(3.701,0.01),(3.728,0.04),(3.762,0.08),(3.789,0.15),(3.809,0.22),(3.829,0.31),(3.849,0.41),(3.869,0.54),(3.892,0.62),(3.910,0.60),(3.930,0.42),(3.950,0.22),(3.970,0.06),
      (4.005,-0.01),(4.039,-0.02),(4.079,-0.01),(4.106,0.02),(4.147,0.00),(4.254,-0.04),(4.322,-0.04),(4.389,-0.01),(4.416,-0.04),(4.443,-0.02),(4.470,-0.05),(4.551,-0.01),(4.571,0.03),(4.591,0.07),(4.611,0.02),(4.631,-0.04),(4.658,-0.07),(4.692,-0.07),(4.705,-0.11),(4.719,0.17),(4.729,0.47),(4.739,0.19),(4.752,-1.08),(4.766,-0.50),(4.777,-0.22),(4.789,-0.07),(4.826,0.02),(4.873,0.07),(4.894,0.10),(4.914,0.17),(4.934,0.26),(4.954,0.38),(4.974,0.49),(4.995,0.57),(5.015,0.61),(5.035,0.58),(5.055,0.45),(5.075,0.24),(5.095,0.06),(5.122,-0.01),(5.243,-0.01),(5.264,-0.05),(5.398,-0.08),(5.533,-0.06),(5.574,-0.07),(5.614,-0.05),(5.641,-0.01),(5.661,0.06),(5.681,0.01),(5.701,-0.04),(5.742,-0.08),(5.755,-0.07),(5.769,-0.10),(5.782,-0.14),(5.791,0.10),(5.802,0.29),(5.813,0.28),(5.829,-0.98),(5.840,-0.41),(5.849,-0.20),(5.863,-0.07),(5.910,-0.03),(5.937,-0.01),(5.964,0.03),(5.995,0.09)]

V6 = [(0.000,0.12),(0.054,0.12),(0.094,0.09),(0.121,0.08),(0.168,0.09),(0.182,0.13),(0.205,0.19),(0.222,0.17),(0.242,0.12),(0.262,0.07),(0.303,0.07),(0.316,0.03),(0.330,-0.05),(0.336,0.12),(0.347,0.52),(0.358,0.03),(0.367,-0.27),(0.381,-0.06),(0.393,0.03),(0.410,0.07),(0.451,0.10),(0.478,0.12),(0.498,0.16),(0.525,0.19),(0.545,0.24),(0.565,0.32),(0.585,0.41),(0.606,0.52),(0.622,0.60),(0.639,0.60),(0.657,0.52),(0.673,0.38),(0.693,0.22),(0.713,0.12),(0.734,0.06),(0.821,0.06),(0.861,0.04),(0.929,0.02),(0.996,0.00),(1.063,0.00),(1.198,0.01),(1.245,0.03),(1.265,0.07),(1.279,0.08),(1.299,0.05),(1.319,0.00),(1.346,-0.03),(1.380,-0.04),(1.397,-0.15),(1.406,0.03),(1.417,0.39),(1.429,0.08),(1.440,-0.36),(1.451,-0.20),(1.460,-0.08),(1.474,-0.04),(1.521,0.00),(1.548,0.03),(1.575,0.06),(1.595,0.10),(1.615,0.17),(1.635,0.25),(1.655,0.36),(1.676,0.47),(1.696,0.53),(1.716,0.49),(1.736,0.38),(1.756,0.19),(1.777,0.07),(1.803,0.01),(1.938,0.00),(1.999,0.01),
      (2.032,0.01),(2.086,-0.01),(2.126,-0.02),(2.194,0.00),(2.315,0.00),(2.349,0.01),(2.369,0.03),(2.385,0.06),(2.409,0.03),(2.429,-0.01),(2.450,-0.06),(2.483,-0.06),(2.497,-0.08),(2.507,-0.18),(2.518,0.03),(2.529,0.42),(2.540,-0.06),(2.548,-0.37),(2.557,-0.20),(2.568,-0.11),(2.582,-0.05),(2.604,-0.03),(2.652,0.00),(2.685,0.03),(2.706,0.08),(2.726,0.12),(2.746,0.19),(2.766,0.26),(2.786,0.38),(2.806,0.46),(2.826,0.45),(2.847,0.38),(2.867,0.22),(2.887,0.03),(2.907,-0.06),(2.934,-0.11),(3.015,-0.12),(3.123,-0.15),(3.284,-0.14),(3.405,-0.14),(3.425,-0.10),(3.446,-0.05),(3.479,-0.05),(3.493,-0.08),(3.513,-0.13),(3.574,-0.14),(3.587,-0.25),(3.596,-0.06),(3.610,0.30),(3.620,0.03),(3.630,-0.43),(3.641,-0.29),(3.650,-0.20),(3.664,-0.12),(3.688,-0.09),(3.728,-0.07),(3.755,-0.05),(3.775,-0.01),(3.795,0.03),(3.816,0.10),(3.836,0.16),(3.856,0.27),(3.874,0.35),(3.890,0.42),(3.906,0.42),(3.923,0.31),(3.944,0.12),(3.964,-0.04),
      (4.005,-0.15),(4.073,-0.14),(4.093,-0.12),(4.113,-0.13),(4.214,-0.14),(4.254,-0.16),(4.389,-0.14),(4.524,-0.14),(4.544,-0.12),(4.564,-0.08),(4.588,-0.04),(4.604,-0.05),(4.624,-0.10),(4.645,-0.13),(4.685,-0.14),(4.699,-0.20),(4.709,-0.24),(4.719,-0.11),(4.729,0.30),(4.739,0.03),(4.752,-0.45),(4.766,-0.29),(4.779,-0.13),(4.820,-0.10),(4.874,-0.06),(4.900,-0.01),(4.927,0.03),(4.947,0.12),(4.968,0.22),(4.988,0.31),(5.008,0.40),(5.024,0.43),(5.042,0.39),(5.062,0.26),(5.082,0.08),(5.102,-0.06),(5.122,-0.12),(5.250,-0.12),(5.385,-0.14),(5.466,-0.12),(5.600,-0.11),(5.627,-0.08),(5.654,-0.04),(5.678,-0.02),(5.695,-0.06),(5.715,-0.11),(5.755,-0.10),(5.769,-0.15),(5.782,-0.22),(5.791,-0.08),(5.809,0.31),(5.818,0.03),(5.829,-0.43),(5.840,-0.24),(5.856,-0.11),(5.910,-0.07),(5.964,-0.04),(5.995,0.02)]

SIGNALS = [AVL, LEAD_I, AVR, LEAD_II, AVF, LEAD_III, V1, V2, V3, V4, V5, V6]

# ---------------- figure ----------------
fig = plt.figure(figsize=(14.4, 16.797), dpi=300)
ax = fig.add_axes([0.01403, 0.01191, 0.97562, 0.97956])

for i, (name, sig) in enumerate(zip(LEADS, SIGNALS)):
    offset = -i * LEAD_SPACING_MV
    t = [p[0] for p in sig]
    v = [p[1] + offset for p in sig]
    ax.plot(t, v, color="blue", linewidth=1.35, zorder=3,
            solid_joinstyle="round", solid_capstyle="round")
    ax.text(-0.02, v[0], name, ha="right", va="center",
            fontsize=15, fontweight="bold", color="black", zorder=4)

bottom_offset = -(len(LEADS) - 1) * LEAD_SPACING_MV
ax.text(3.0, bottom_offset - 1.06, SPEED_TEXT, ha="center", va="center", fontsize=11)

ax.set_xlim(-0.3, 6.29)
ax.set_ylim(bottom_offset - 1.32, 1.17)

ax.xaxis.set_major_locator(MultipleLocator(0.2))
ax.xaxis.set_minor_locator(MultipleLocator(0.04))
ax.yaxis.set_major_locator(MultipleLocator(0.5))
ax.yaxis.set_minor_locator(MultipleLocator(0.1))
ax.grid(which="major", color="#cccccc", linewidth=0.8, linestyle="-", zorder=1)
ax.grid(which="minor", color="#d6d6d6", linewidth=0.5, linestyle=":", zorder=1)
ax.set_axisbelow(True)
ax.tick_params(which="both", labelleft=False, labelbottom=False)

fig.savefig("out.png", dpi=300)
